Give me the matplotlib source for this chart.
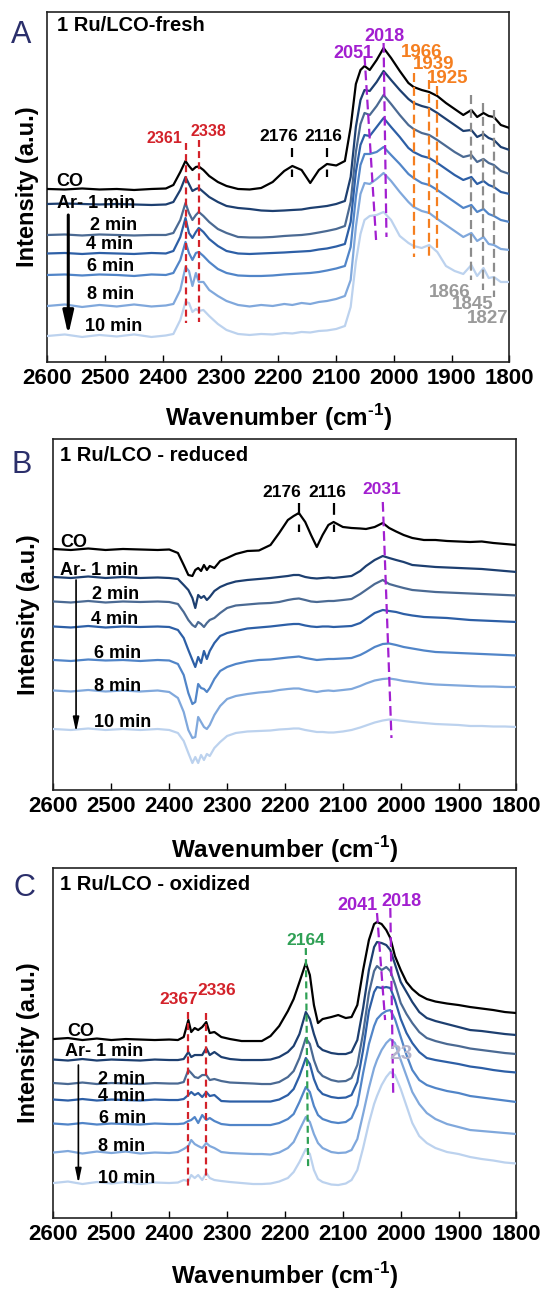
import numpy as np
import matplotlib
matplotlib.use('Agg')
from matplotlib import pyplot as plt

#%%
## Data (intensity in a.u.)

names = ['CO', 'Ar- 1 min', '2 min', '4 min', '6 min', '8 min', '10 min']
colors = ['#000000', '#1d3f70', '#4b6a93', '#2d5fa6', '#5185c8', '#80a8dc', '#bcd2ee']

# A: 1 Ru/LCO-fresh
wnA = [2600, 2570, 2540, 2510, 2480, 2450, 2420, 2395,
       2382, 2370, 2361, 2355, 2349, 2343, 2338, 2330, 2320, 2305, 2290,
       2270, 2250, 2230, 2210, 2190, 2176, 2160, 2145, 2130, 2116, 2100, 2085,
       2075, 2066, 2058, 2051, 2042, 2030, 2018, 2005, 1990, 1975, 1966, 1952, 1939, 1925, 1910, 1895, 1880,
       1866, 1856, 1845, 1836, 1827, 1815, 1800]
co_A = [173, 172.5, 173.5, 172.5, 173, 172, 173, 173.5,
        177, 190, 201, 196, 192, 195, 195.5, 192, 186, 180, 176,
        173, 172.5, 174, 180, 191, 196, 192, 179, 192, 198, 196.5, 201,
        235, 278, 292, 296, 292, 302, 314, 304, 291, 279, 275, 272, 270, 266, 259, 253, 247,
        252, 245, 249, 246, 245, 237, 234]
ar1_A = [158, 158.5, 158, 157.5, 158, 157.5, 157, 157.5,
         160, 172, 185, 178, 171, 173, 174, 170, 165, 160, 156,
         154, 153, 151.5, 151, 151.5, 152, 152.5, 154, 155, 156, 158, 161,
         185, 235, 262, 272, 271, 280, 291, 282, 272, 263, 259, 256, 254, 249, 243, 237, 231,
         232, 225, 228, 224, 222, 215, 212]
ar2_A = [127, 127.5, 126.5, 127.5, 127, 126.5, 127, 127,
         129, 142, 159, 149, 142, 147, 150, 146, 140, 133, 129,
         125, 124.5, 124.5, 125, 126, 126.5, 127, 128, 129.5, 131, 133, 136,
         160, 210, 238, 249, 247, 256, 267, 258, 247, 237, 233, 229, 227, 222, 216, 210, 205,
         207, 200, 203, 199, 197, 191, 188]
ar4_A = [108.5, 109, 108, 109, 108.5, 108, 109, 108.5,
         111, 125, 144, 129, 124, 130, 134, 130, 123, 116, 111,
         108.5, 108, 108.5, 109, 109.5, 110, 110.5, 111, 112.5, 113.5, 115.5, 118,
         140, 190, 217, 227, 226, 235, 244, 235, 225, 214, 210, 206, 204, 199, 193, 187, 182,
         185, 178, 181, 177, 175, 170, 168]
ar6_A = [87, 87.5, 86.5, 87.5, 87, 86, 87.5, 87,
         89, 102, 120, 109, 102, 109, 110, 106, 100, 93, 89,
         86.5, 86, 86, 86.5, 87.5, 88, 88.5, 89, 90, 91.5, 93.5, 96,
         115, 165, 197, 208, 208, 210, 215, 207, 198, 188, 184, 179, 177, 172, 166, 160, 154,
         157, 150, 153, 148, 146, 142, 140]
ar8_A = [56, 57.5, 55, 57, 55.5, 57.5, 55.5, 56.5,
         58, 72, 95, 91, 76, 89, 80, 80, 72, 66, 61,
         57, 55.5, 57, 56, 58, 57, 59, 58, 60, 61, 63, 66,
         82, 135, 168, 179, 178, 183, 189, 181, 170, 160, 155, 151, 149, 143, 137, 131, 125,
         129, 121, 125, 118, 117, 113, 112]
ar10_A = [26, 27.5, 25, 27, 25.5, 27.5, 25, 26.5,
          28, 42, 60, 59, 50, 53, 51, 52, 46, 38, 32,
          28, 27, 28, 27.5, 29, 28.5, 30, 29.5, 31, 31.5, 33, 36,
          55, 100, 128, 142, 146, 147, 150, 142, 126, 119, 116, 114, 117, 110, 96, 91, 88,
          97, 86, 94, 84, 85, 80, 80]

# B: 1 Ru/LCO - reduced
wnB = [2600, 2570, 2540, 2510, 2480, 2450, 2420, 2400,
       2385, 2375, 2367, 2360, 2355, 2350, 2345, 2340, 2335, 2330,
       2322, 2312, 2300, 2285, 2265, 2245, 2225, 2210, 2195, 2185,
       2176, 2165, 2155, 2145, 2135, 2125, 2116, 2100, 2085, 2070,
       2060, 2045, 2031, 2020, 2008, 1995, 1980, 1960, 1940, 1920,
       1900, 1880, 1860, 1840, 1820, 1800]
co_B = [241, 240, 241.5, 240, 241, 240.5, 240, 240.5,
        237, 225, 215, 214, 220, 222, 219, 225, 220, 224,
        222, 229, 232, 236, 239, 239.5, 245, 257, 270, 274,
        277, 268, 255, 243, 255, 265, 268, 263, 262, 261.5,
        261, 263, 267, 262, 258.5, 255, 252, 250, 250, 249,
        248.5, 248, 248.5, 247, 246, 245]
ar1_B = [213, 212, 213.5, 212, 213, 212, 212.5, 212,
         211, 205, 200, 192, 182, 195, 192, 194, 190, 193,
         199, 203, 206, 208.5, 210, 211, 212, 213, 214, 215,
         215, 213, 212, 211.5, 212, 212.5, 212, 213, 214, 219,
         224, 230, 234, 232, 230, 228, 225, 224, 223, 222.5,
         222, 221.5, 221, 220, 219, 218]
ar2_B = [188.5, 187.5, 189, 187.5, 188.5, 188, 188.5, 188,
         186, 178, 170, 165, 163, 168, 166, 163, 167, 170,
         172, 177, 182, 184.5, 185.5, 186.5, 187, 188, 190, 191,
         191.5, 190, 188.5, 188, 188.5, 189, 189, 190, 191, 196,
         200, 206, 210, 206, 204, 202, 200, 199, 198, 197.5,
         197, 196.5, 196, 195.5, 195, 194.5]
ar4_B = [163.5, 162.5, 164, 162.5, 163.5, 163, 163.5, 163,
         160, 152, 140, 130, 123, 133, 127, 139, 131, 139,
         147, 154, 157, 159, 161.5, 162.5, 163.5, 164.5, 165.5, 166,
         166, 164.5, 163.5, 163, 163.5, 163.5, 163, 163.5, 164, 167,
         171, 177, 180, 179, 178, 176, 174.5, 173, 172.5, 172,
         171, 170, 169.5, 169, 168.5, 168]
ar6_B = [130, 129, 130.5, 129.5, 130, 129, 130, 129.5,
         126, 115, 97, 86, 88, 106, 102, 101, 98, 102,
         111, 119, 123, 126, 128.5, 130, 130.5, 131.5, 132.5, 133,
         133.5, 132, 131, 130, 130.5, 131, 131, 131.5, 132, 135,
         138, 143, 146, 146.5, 145, 143, 141.5, 139.5, 138, 137.5,
         137, 136.5, 136, 135.5, 135, 134.5]
ar8_B = [99.5, 98.5, 100, 98.5, 99.5, 98.5, 99.5, 98,
         92, 78, 60, 52, 53, 73, 68, 63, 61, 65,
         75, 84, 91, 94, 96, 97.5, 98.5, 100, 101, 101.5,
         101.5, 100, 99, 98, 99, 99.5, 99, 100, 101, 104,
         106.5, 109.5, 111, 111.5, 110.5, 109, 108, 106.5, 105.5, 105,
         104.5, 104, 103.5, 103.5, 103, 103]
ar10_B = [61, 60, 61.5, 60, 61, 60, 61, 60,
          57, 49, 37, 27, 33, 27, 35, 30, 36, 34,
          42, 48, 54, 57, 58.5, 59, 59.5, 60.5, 61, 61.5,
          61.5, 60, 59, 58, 58, 57.5, 57.5, 58.5, 60, 62.5,
          64.5, 67.5, 69.5, 70.5, 70, 69, 68, 67, 66, 65.5,
          65, 64, 64, 63.5, 63.5, 63]

# C: 1 Ru/LCO - oxidized
wnC = [2600, 2575, 2550, 2525, 2500, 2475, 2450, 2425, 2400,
       2385, 2375, 2367, 2362, 2356, 2350, 2343, 2336, 2330, 2322,
       2310, 2295, 2275, 2255, 2240, 2225, 2210, 2195, 2185, 2175,
       2164, 2157, 2150, 2143, 2135, 2120, 2108, 2095, 2085, 2075,
       2065, 2055, 2046, 2041, 2033, 2025, 2018, 2010, 2000, 1990,
       1980, 1968, 1955, 1940, 1920, 1900, 1880, 1860, 1840, 1820,
       1800]
co_C = [179, 180, 178, 179.5, 178, 179, 178.5, 178, 178.5,
        178, 181, 198, 186, 190, 188, 191, 196, 185, 186,
        181, 179, 177, 177, 177, 182, 192, 207, 219, 236,
        255, 243, 213, 195, 199, 201, 203, 200, 201, 213,
        248, 278, 294, 296, 294, 288, 280, 262, 248, 236,
        229, 223, 219, 216.5, 214.5, 213, 211, 209.5, 208, 206,
        205]
ar1_C = [158.5, 157.5, 159, 157.5, 158.5, 158, 157.5, 158.5, 158,
         158, 159, 166, 161, 163, 163, 163, 170, 163, 166,
         161, 159, 158, 158, 158, 158.5, 161, 166, 172, 184,
         206, 199, 184, 172, 168, 165, 164, 164, 166, 178,
         210, 248, 271, 276, 275, 273, 268, 254, 236, 226,
         216, 206, 200, 197, 194, 191, 188, 187, 185.5, 184,
         183]
ar2_C = [135, 134, 135.5, 134, 135, 134.5, 134, 135, 134.5,
         134.5, 136, 148, 145, 141, 140, 143, 143, 138, 139,
         137, 135.5, 135, 134.5, 134, 134, 136, 141, 147, 160,
         180, 174, 158, 147, 142, 138, 136.5, 137, 140, 153,
         185, 225, 247, 252, 248, 251, 247, 234, 215, 204,
         195, 186, 180, 177, 174, 172, 169.5, 168, 166.5, 165,
         164]
ar4_C = [118.5, 117.5, 119, 117.5, 118.5, 118, 117.5, 118.5, 118,
         118, 119, 123, 126, 123, 125, 121, 126, 122, 123,
         117, 116.5, 116.5, 116.5, 116.5, 116.5, 118.5, 123, 129, 142,
         160, 154, 139, 129, 124, 121, 120, 120.5, 123, 136,
         168, 207, 226, 231, 230, 231, 230, 218, 199, 185,
         175, 166, 160, 158, 156, 154, 151.5, 150, 148, 146.5,
         145.5]
ar6_C = [94.5, 93.5, 95, 93.5, 94.5, 94, 93.5, 94.5, 94,
         94, 94.5, 97, 98, 101, 95, 103, 98, 100, 97,
         94, 93, 93, 93, 93, 93, 95, 99, 104, 116,
         131, 126, 112, 103, 99, 96, 95, 96, 100, 113,
         145, 174, 192, 199, 204, 207, 208, 199, 181, 163,
         148, 138, 133, 130, 127, 125, 122, 120.5, 119, 117.5,
         116]
ar8_C = [65.5, 67, 64.5, 66.5, 65, 66.5, 64.5, 65.5, 65,
         66, 69, 72, 78, 74, 72, 70, 75, 72, 70,
         66, 65, 64.5, 64, 64, 63.5, 65.5, 70, 76, 88,
         101, 96, 84, 75, 70, 66, 65, 65.5, 68, 79,
         104, 130, 150, 158, 168, 175, 179, 175, 158, 142,
         126, 114, 105, 99, 94, 91, 88, 87, 86, 85,
         84]
ar10_C = [35, 36.5, 34, 36, 34.5, 36, 34, 35.5, 35,
          35.5, 38, 37, 43, 40, 43, 38, 45, 40, 38,
          37, 36, 35, 34, 34, 34.5, 36.5, 40, 46, 56,
          69, 64, 48, 39, 36, 33.5, 33, 34.5, 38, 48,
          70, 95, 114, 122, 133, 141, 146, 143, 129, 112,
          95, 82, 75, 70, 66, 64, 61, 59, 57.5, 55.5,
          54.5]

# band positions (cm-1)
peaksA_red = [2361, 2338]
peaksA_black = [2176, 2116]
peaksA_purple = [2051, 2018]
peaksA_orange = [1966, 1939, 1925]
peaksA_gray = [1866, 1845, 1827]
peaksB_black = [2176, 2116]
peaksB_purple = [2031]
peaksC_red = [2367, 2336]
peaksC_green = [2164]
peaksC_purple = [2041, 2018]

#%%
## Style

plt.rcParams['font.family'] = ['Liberation Sans', 'DejaVu Sans']
plt.rcParams['font.weight'] = 'bold'
plt.rcParams['mathtext.fontset'] = 'custom'
plt.rcParams['mathtext.rm'] = 'Liberation Sans:bold'
plt.rcParams['mathtext.bf'] = 'Liberation Sans:bold'
plt.rcParams['lines.scale_dashes'] = False

RED = '#d3222a'
PURPLE = '#a21fd0'
ORANGE = '#f57f20'
GRAY = '#8c8c8c'
GREEN = '#2fa055'
NAVY = '#2b2f6b'

fig = plt.figure(figsize=(5.42, 12.9), dpi=100)
axA = fig.add_axes([0.0876, 0.7194, 0.8524, 0.2713])
axB = fig.add_axes([0.0987, 0.3876, 0.8542, 0.2721])
axC = fig.add_axes([0.0987, 0.0558, 0.8542, 0.2713])


def setup(ax, ytop, xlab_y, ylab_x):
    ax.set_xlim(2600, 1800)
    ax.set_ylim(0, ytop)
    ax.set_xticks(np.arange(2600, 1799, -100))
    ax.set_yticks([])
    ax.tick_params(axis='x', direction='in', length=5, width=1, labelsize=16, pad=4)
    for s in ax.spines.values():
        s.set_linewidth(1.2)
        s.set_color('#222222')
    ax.text(0.5, xlab_y, r'Wavenumber (cm$^{\text{-1}}$)', transform=ax.transAxes,
            ha='center', va='center', fontsize=17.5)
    ax.text(ylab_x, 0.5, 'Intensity (a.u.)', transform=ax.transAxes, rotation=90,
            ha='center', va='center', fontsize=17)


def curves(ax, wn, series):
    for y, c in zip(series, colors):
        ax.plot(wn, y, color=c, lw=1.6, zorder=3)


def dline(ax, x0, y0, x1, y1, color, dashes):
    ax.plot([x0, x1], [y0, y1], color=color, lw=1.6, dashes=dashes, zorder=5)


def labels(ax, pos, size=13):
    for n, (x, y) in zip(names, pos):
        ax.text(x, y, n, ha='left', va='center', fontsize=size, zorder=6)


def arrow(ax, x, y0, y1, lw, hw, hl):
    ax.annotate('', xy=(x, y1), xytext=(x, y0),
                arrowprops=dict(arrowstyle='-|>,head_width=%s,head_length=%s' % (hw, hl),
                                lw=lw, color='k', shrinkA=0, shrinkB=0))


#%%
## A

setup(axA, 350, -0.16, -0.044)
curves(axA, wnA, [co_A, ar1_A, ar2_A, ar4_A, ar6_A, ar8_A, ar10_A])
labels(axA, [(2585, 180.5), (2584, 158.5), (2526, 136), (2533, 117),
             (2532, 95.3), (2532, 67.5), (2535, 35.3)])
arrow(axA, 2564, 147, 27, 2.2, 0.32, 1.4)
axA.text(0.0206, 0.96, '1 Ru/LCO-fresh', transform=axA.transAxes, ha='left', va='center', fontsize=14.5)

dline(axA, peaksA_red[0], 219, peaksA_red[0], 39, RED, (5, 3))
dline(axA, peaksA_red[1], 222, peaksA_red[1], 40, RED, (5, 3))
axA.text(peaksA_red[0] + 6, 223, str(peaksA_red[0]), color=RED, ha='right', va='center', fontsize=11.5)
axA.text(2322, 230, str(peaksA_red[1]), color=RED, ha='center', va='center', fontsize=11.5)

for p, lx in zip(peaksA_black, [2199, 2122]):
    dline(axA, p, 214, p, 185, 'k', (6.5, 9))
    axA.text(lx, 225.5, str(p), color='k', ha='center', va='center', fontsize=12.5)

dline(axA, peaksA_purple[0], 306, 2031, 122, PURPLE, (7, 3.5))
dline(axA, peaksA_purple[1], 319, 2013, 125, PURPLE, (7, 3.5))
axA.text(2070, 308.7, str(peaksA_purple[0]), color=PURPLE, ha='center', va='center', fontsize=13)
axA.text(2016, 325, str(peaksA_purple[1]), color=PURPLE, ha='center', va='center', fontsize=13)

for p, top, bot, lx, ly in zip(peaksA_orange, [289, 282, 276], [105, 102, 110],
                               [1951.5, 1931, 1906.5], [309.3, 297, 283.7]):
    dline(axA, p, top, p, bot, ORANGE, (6.5, 3.5))
    axA.text(lx, ly, str(p), color=ORANGE, ha='center', va='center', fontsize=13.5)

for p, top, bot, lx, ly in zip(peaksA_gray, [267, 259, 252], [82, 72, 65],
                               [1903, 1863, 1837], [69, 57, 43]):
    dline(axA, p, top, p, bot, GRAY, (6.5, 3.5))
    axA.text(lx, ly, str(p), color='#9a9a9a', ha='center', va='center', fontsize=13.5)

#%%
## B

setup(axB, 351, -0.171, -0.055)
curves(axB, wnB, [co_B, ar1_B, ar2_B, ar4_B, ar6_B, ar8_B, ar10_B])
labels(axB, [(2589, 247.3), (2589, 219.3), (2534, 195), (2535, 170.7),
             (2529.5, 136.7), (2529.5, 103.3), (2529.5, 67.3)])
arrow(axB, 2561, 210, 58, 1.2, 0.18, 0.85)
axB.text(0.0149, 0.9516, '1 Ru/LCO - reduced', transform=axB.transAxes, ha='left', va='center', fontsize=14.5)

for p, lx in zip(peaksB_black, [2205, 2127]):
    dline(axB, p, 287, p, 258, 'k', (8.5, 7))
    axB.text(lx, 297, str(p), color='k', ha='center', va='center', fontsize=12.5)
dline(axB, peaksB_purple[0], 288, 2016, 52, PURPLE, (7, 3.5))
axB.text(2033, 300, str(peaksB_purple[0]), color=PURPLE, ha='center', va='center', fontsize=12.5)

#%%
## C

setup(axC, 350, -0.165, -0.055)
curves(axC, wnC, [co_C, ar1_C, ar2_C, ar4_C, ar6_C, ar8_C, ar10_C])
labels(axC, [(2575.5, 186.3), (2580, 166.3), (2523.5, 139), (2522.5, 121.3),
             (2521.5, 99.7), (2522.5, 72), (2523.5, 39.7)])
arrow(axC, 2557, 153, 34.7, 1.2, 0.18, 0.85)
axC.text(0.0149, 0.954, '1 Ru/LCO - oxidized', transform=axC.transAxes, ha='left', va='center', fontsize=14.5)

dline(axC, peaksC_red[0], 206, peaksC_red[0], 30, RED, (5, 3))
dline(axC, peaksC_red[1], 205, peaksC_red[1], 38, RED, (5, 3))
axC.text(2383.5, 218.7, str(peaksC_red[0]), color=RED, ha='center', va='center', fontsize=12.5)
axC.text(2317.5, 228, str(peaksC_red[1]), color=RED, ha='center', va='center', fontsize=12.5)

dline(axC, peaksC_green[0], 270, 2160, 50, GREEN, (5, 3))
axC.text(2164, 278, str(peaksC_green[0]), color=GREEN, ha='center', va='center', fontsize=12.5)

dline(axC, peaksC_purple[0], 305, 2027, 198, PURPLE, (7, 3.5))
dline(axC, peaksC_purple[1], 310, 2013, 125, PURPLE, (7, 3.5))
axC.text(2074.5, 313, str(peaksC_purple[0]), color=PURPLE, ha='center', va='center', fontsize=13)
axC.text(1998.5, 316.3, str(peaksC_purple[1]), color=PURPLE, ha='center', va='center', fontsize=13)
axC.text(1999.5, 164.7, '23', color='#b4b4cc', ha='center', va='center', fontsize=15, zorder=6)

## panel letters
fig.text(0.0397, 0.9729, 'A', color=NAVY, fontsize=22, fontweight='normal', ha='center', va='center')
fig.text(0.0399, 0.6395, 'B', color=NAVY, fontsize=22, fontweight='normal', ha='center', va='center')
fig.text(0.0443, 0.3114, 'C', color=NAVY, fontsize=22, fontweight='normal', ha='center', va='center')

plt.savefig('out.png', dpi=100)
